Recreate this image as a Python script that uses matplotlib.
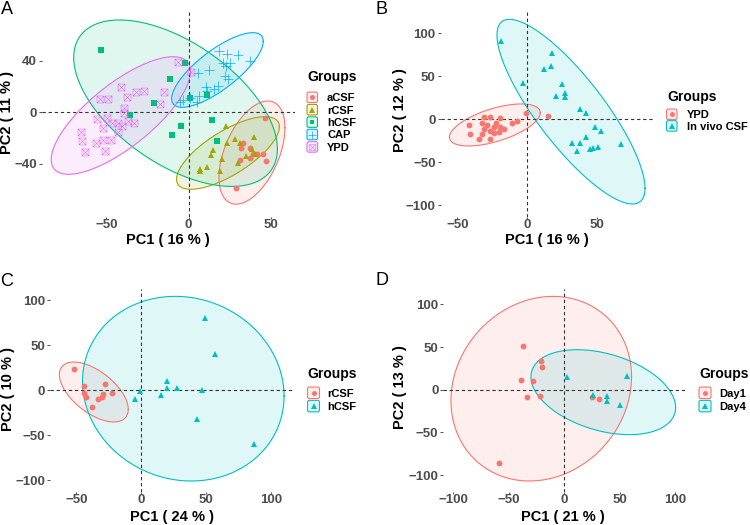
import numpy as np
import matplotlib.pyplot as plt
from matplotlib.colors import to_rgb
from matplotlib.path import Path
from matplotlib.patches import FancyBboxPatch
from matplotlib.lines import Line2D
from matplotlib.transforms import IdentityTransform

plt.rcParams['font.family'] = ['Liberation Sans', 'DejaVu Sans']

# ---- panel A : five groups ----
a_acsf_x = [46.5, 33.3, 31.7, 37.4, 39.4, 41.8, 45.5, 47.1, 37.4, 31.3, 28.8]
a_acsf_y = [-4.7, -23.4, -27.6, -27.3, -32.0, -32.5, -32.0, -37.7, -35.1, -37.2, -58.8]
a_rcsf_x = [22.7, 28.2, 23.2, 31.3, 40.0, 15.0, 13.4, 20.1, 11.0, 6.9, 6.9, 19.1, 29.9, 35.0, 38.4, 40.4]
a_rcsf_y = [-10.4, -20.8, -23.6, -23.6, -19.0, -29.3, -33.2, -35.8, -42.4, -43.6, -45.5, -45.5, -39.0, -34.1, -28.8, -32.0]
a_hcsf_x = [-53.0, -2.3, -11.0, -21.3, -35.4, 1.0, 11.2, 14.4, -4.7, -9.8, 17.4]
a_hcsf_y = [48.4, 38.0, 25.9, 7.5, -2.1, 10.9, 13.7, -6.2, -10.7, -17.9, -22.1]
a_cap_x = [18.7, 23.5, 30.2, 37.4, 21.1, 22.7, 25.2, 12.6, 5.9, 22.3, 23.8, 18.1, 15.4, 10.5, 11.0, 6.5, 0.8, -3.3, 4.9, -5.3]
a_cap_y = [47.2, 45.4, 44.6, 39.4, 38.2, 35.5, 38.2, 32.4, 30.4, 27.7, 25.7, 20.5, 17.9, 19.5, 16.1, 12.2, 10.9, 9.6, 8.3, 8.3]
a_ypd_x = [-6.7, 1.4, -41.1, -37.2, -31.7, -27.4, -14.9, -17.1, -53.7, -49.0, -39.0, -39.5, -55.5, -49.8,
           -46.8, -43.1, -40.2, -36.8, -33.4, -52.1, -43.1, -65.5, -65.1, -56.3, -52.3, -47.4, -63.2, -50.6]
a_ypd_y = [38.5, 31.0, 19.4, 12.1, 16.0, 16.5, 16.0, 6.7, 10.1, 10.3, 3.6, -0.3, -5.2, -4.2,
           -8.6, -8.6, -10.6, -6.5, -8.1, -12.5, -15.1, -15.1, -22.1, -23.6, -21.6, -21.6, -30.6, -29.9]
# ellipses: centre x, centre y, half width, half height, correlation
a_ell_acsf = (38.6, -31.2, 20.1, 39.9, 0.48)
a_ell_rcsf = (24.0, -31.5, 31.3, 28.1, 0.72)
a_ell_hcsf = (-7.9, 7.0, 62.0, 64.4, -0.55)
a_ell_cap = (17.6, 32.7, 27.9, 28.9, 0.77)
a_ell_ypd = (-41.2, -2.5, 42.4, 45.5, 0.75)

# ---- panel B ----
b_ypd_x = [-0.7, 14.5, -7.4, -11.0, -41.9, -40.7, -31.2, -26.4, -19.8, -32.4, -28.8, -22.1, -19.8, -16.9,
           -31.2, -26.9, -24.1, -32.4, -34.8, -26.4, -20.5, -24.1]
b_ypd_y = [7.0, 3.8, -1.6, -4.0, -6.6, -17.1, 2.3, 2.3, 1.2, -4.7, -6.6, -4.0, -8.6, -11.7,
           -11.7, -13.6, -15.6, -17.5, -23.3, -23.3, -14.5, -9.3]
b_csf_x = [-19.0, 17.6, 17.1, 11.7, -3.1, 25.0, 20.7, 26.9, 26.9, 37.4, 41.7, 48.3, 53.1, 41.9,
           31.9, 38.1, 35.7, 45.0, 47.1, 50.9, 67.1]
b_csf_y = [91.6, 76.9, 62.1, 58.6, 42.3, 40.8, 27.2, 30.3, 26.3, 11.7, 7.3, -8.6, -13.3, -20.3,
           -28.0, -27.3, -36.9, -34.6, -33.1, -31.9, -28.8]
b_ell_ypd = (-23.2, -6.6, 32.5, 24.5, 0.58)
b_ell_csf = (31.3, 8.9, 53.0, 107.6, -0.83)

# ---- panel C ----
c_rcsf_x = [-51.5, -44.1, -27.9, -22.8, -43.8, -42.5, -29.7, -30.5, -33.5, -38.2]
c_rcsf_y = [23.3, 4.8, 6.7, -2.7, -2.7, -7.1, -4.1, -7.8, -10.0, -18.2]
c_hcsf_x = [48.8, 56.7, 19.5, 19.5, 27.2, 46.7, -1.0, -4.8, 15.2, 42.6, 86.9]
c_hcsf_y = [80.3, 40.7, 10.3, 2.9, 2.6, 0.7, -1.1, -10.0, -4.9, -32.2, -59.3]
c_ell_rcsf = (-36.5, -1.9, 26.5, 33.3, -0.58)
c_ell_hcsf = (32.3, 1.8, 77.5, 102.6, -0.08)

# ---- panel D ----
d_day1_x = [-37.0, -21.3, -20.4, -39.1, -28.0, -33.7, -22.2, 25.0, 31.0, -58.9]
d_day1_y = [50.9, 33.6, 26.6, 11.7, 9.8, -8.2, -7.4, -8.9, -11.3, -85.9]
d_day4_x = [2.2, 56.3, 26.2, 38.3, 38.8, 50.3]
d_day4_y = [14.9, 16.4, -6.6, -7.4, -13.6, -17.6]
d_ell_day1 = (-20.8, 1.2, 81.5, 108.2, 0.13)
d_ell_day4 = (35.2, -2.9, 65.3, 49.8, -0.36)

RED, OLIVE, GREEN, BLUE, PINK, CYAN = '#F8766D', '#A3A500', '#00BF7D', '#00B0F6', '#E76BF3', '#00BFC4'

# square with an X inside (ggplot shape 7)
BOXX = Path([(-1, -1), (1, -1), (1, 1), (-1, 1), (-1, -1), (-1, -1), (1, 1), (-1, 1), (1, -1)],
            [Path.MOVETO, Path.LINETO, Path.LINETO, Path.LINETO, Path.CLOSEPOLY,
             Path.MOVETO, Path.LINETO, Path.MOVETO, Path.LINETO])

SHAPES = {
    'circle': dict(marker='o', ms=4.2, mew=0),
    'triangle': dict(marker='^', ms=4.8, mew=0),
    'square': dict(marker='s', ms=3.8, mew=0),
    'plus': dict(marker='+', ms=6.5, mew=0.5),
    'boxx': dict(marker=BOXX, ms=5.0, mew=0.4, mfc='none'),
}

W, H = 750, 525
fig = plt.figure(figsize=(7.5, 5.25), dpi=100)


def px_axes(x0, y0, x1, y1):
    return fig.add_axes([x0 / W, 1 - y1 / H, (x1 - x0) / W, (y1 - y0) / H])


def marker_style(color, shape, scale=1.0):
    st = dict(SHAPES[shape])
    st['ms'] = st['ms'] * scale
    st['mec'] = color
    if 'mfc' not in st:
        st['mfc'] = color
    return st


def draw_ellipse(ax, ell, color):
    cx, cy, hx, hy, r = ell
    t = np.linspace(0, 2 * np.pi, 300)
    x = cx + hx * np.cos(t)
    y = cy + hy * (r * np.cos(t) + np.sqrt(1 - r ** 2) * np.sin(t))
    ax.fill(x, y, facecolor=color, alpha=0.12, edgecolor='none', zorder=1)
    ax.plot(x, y, color=color, lw=0.8, zorder=1.5)


def draw_legend(groups, title_xy, key_x, key_w, key_h, first_y, step, label_x):
    tx, ty = title_xy
    fig.text(tx / W, 1 - ty / H, 'Groups', fontsize=10, fontweight='bold', va='center', ha='left')
    for i, (name, _, _, _, color, shape) in enumerate(groups):
        yc = first_y + i * step
        box = FancyBboxPatch((key_x, H - yc - key_h / 2), key_w, key_h,
                             boxstyle='round,pad=0,rounding_size=1.8', transform=IdentityTransform(),
                             facecolor=(*to_rgb(color), 0.12), edgecolor=color, lw=0.8)
        fig.add_artist(box)
        fig.add_artist(Line2D([key_x + key_w / 2], [H - yc], transform=IdentityTransform(), ls='none',
                              **marker_style(color, shape, 0.85)))
        fig.text(label_x / W, 1 - yc / H, name, fontsize=8, fontweight='bold', va='center_baseline', ha='left')


def panel(ax, groups, xlim, ylim, xticks, yticks, xlabel, ylabel, xlab_at, ylab_at):
    for name, xs, ys, ell, color, shape in groups:
        draw_ellipse(ax, ell, color)
        ax.plot(xs, ys, ls='none', zorder=3, **marker_style(color, shape))
    ax.axhline(0, color='#333333', lw=0.8, ls=(0, (3, 2.5)), zorder=2)
    ax.axvline(0, color='#333333', lw=0.8, ls=(0, (3, 2.5)), zorder=2)
    ax.set_xlim(xlim)
    ax.set_ylim(ylim)
    ax.set_xticks(xticks)
    ax.set_yticks(yticks)
    for s in ax.spines.values():
        s.set_visible(False)
    ax.tick_params(width=0.6, color='#333333', labelsize=9.5, labelcolor='#4D4D4D')
    ax.tick_params(axis='x', length=1.5, pad=0)
    ax.tick_params(axis='y', length=2.5, pad=1)
    for lbl in ax.get_xticklabels() + ax.get_yticklabels():
        lbl.set_fontweight('bold')
    ax.set_xlabel(xlabel, fontsize=10.5, fontweight='bold')
    ax.set_ylabel(ylabel, fontsize=10.5, fontweight='bold')
    ax.xaxis.set_label_coords(xlab_at[0] / W, 1 - xlab_at[1] / H, transform=fig.transFigure)
    ax.yaxis.set_label_coords(ylab_at[0] / W, 1 - ylab_at[1] / H, transform=fig.transFigure)
    ax.xaxis.label.set_va('center')
    ax.yaxis.label.set_va('center')
    ax.yaxis.label.set_ha('center')


groups_a = [('aCSF', a_acsf_x, a_acsf_y, a_ell_acsf, RED, 'circle'),
            ('rCSF', a_rcsf_x, a_rcsf_y, a_ell_rcsf, OLIVE, 'triangle'),
            ('hCSF', a_hcsf_x, a_hcsf_y, a_ell_hcsf, GREEN, 'square'),
            ('CAP', a_cap_x, a_cap_y, a_ell_cap, BLUE, 'plus'),
            ('YPD', a_ypd_x, a_ypd_y, a_ell_ypd, PINK, 'boxx')]
groups_b = [('YPD', b_ypd_x, b_ypd_y, b_ell_ypd, RED, 'circle'),
            ('In vivo CSF', b_csf_x, b_csf_y, b_ell_csf, CYAN, 'triangle')]
groups_c = [('rCSF', c_rcsf_x, c_rcsf_y, c_ell_rcsf, RED, 'circle'),
            ('hCSF', c_hcsf_x, c_hcsf_y, c_ell_hcsf, CYAN, 'triangle')]
groups_d = [('Day1', d_day1_x, d_day1_y, d_ell_day1, RED, 'circle'),
            ('Day4', d_day4_x, d_day4_y, d_ell_day4, CYAN, 'triangle')]

axA = px_axes(41.5, 11.7, 295, 216.7)
panel(axA, groups_a, (-89.5, 64.8), (-80.8, 77.8), [-50, 0, 50], [-40, 0, 40],
      'PC1 ( 16 % )', 'PC2 ( 11 % )', (168, 239.5), (7.5, 112))
draw_legend(groups_a, (307, 77), 307, 10.5, 10.5, 97.3, 12.4, 327)

axB = px_axes(440.5, 11.7, 653, 216.7)
panel(axB, groups_b, (-62.1, 90), (-113.5, 125.4), [-50, 0, 50], [-100, -50, 0, 50, 100],
      'PC1 ( 16 % )', 'PC2 ( 12 % )', (547, 239.5), (400, 110))
draw_legend(groups_b, (667.3, 96.5), 666.5, 10.5, 10.5, 114.3, 11.6, 687.3)

axC = px_axes(50, 288.7, 293.3, 492)
panel(axC, groups_c, (-70.2, 116.9), (-113, 112.9), [-50, 0, 50, 100], [-100, -50, 0, 50, 100],
      'PC1 ( 24 % )', 'PC2 ( 10 % )', (171.7, 517), (8.5, 388.7))
draw_legend(groups_c, (307.3, 373.7), 307.5, 12, 11.5, 392.8, 13.3, 327.7)

axD = px_axes(443.3, 288.7, 686.7, 492)
panel(axD, groups_d, (-109.2, 110.5), (-119.9, 118.4), [-100, -50, 0, 50, 100], [-100, -50, 0, 50, 100],
      'PC1 ( 21 % )', 'PC2 ( 13 % )', (563, 517), (400, 387))
draw_legend(groups_d, (699, 373.7), 699, 12, 11.5, 392.8, 13.3, 719)

for letter, x, y in [('A', 0.5, 14), ('B', 375.5, 14), ('C', 0.5, 286), ('D', 375.5, 285)]:
    fig.text(x / W, 1 - y / H, letter, fontsize=13, va='baseline', ha='left')

fig.savefig('out.png', dpi=100)
